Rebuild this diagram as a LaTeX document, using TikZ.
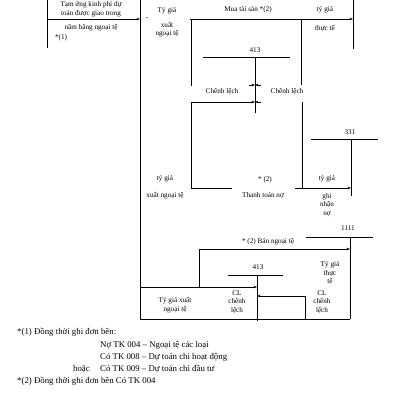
\documentclass[tikz,border=0pt]{standalone}
\usepackage{fontspec}
\setmainfont{Liberation Serif}
\usetikzlibrary{arrows.meta}

\begin{document}
\begin{tikzpicture}[x=1pt, y=-1pt,
  lbl/.style={font=\fontsize{7.2}{8.5}\selectfont, align=center, inner sep=0pt},
  note/.style={font=\fontsize{8.8}{10}\selectfont, anchor=west, inner sep=0pt},
  ln/.style={line width=0.7pt},
  arr/.style={ln, -{Stealth[length=3.5pt, width=2.6pt]}}]
  \useasboundingbox (0,0) rectangle (400,400);

  % account: tam ung kinh phi
  \coordinate (tuTop) at (47,0);
  \coordinate (tuBot) at (47,48);
  \coordinate (tuRow) at (47,19);
  \coordinate (mainTop) at (140,0);
  \coordinate (mainRow) at (140,19);
  \coordinate (mainMid) at (140,287);
  \coordinate (mainBot) at (140,319);
  \draw[ln] (tuTop) -- (tuBot);
  \draw[ln] (mainTop) -- (mainBot);
  \draw[arr] (tuRow) -- (mainRow);
  \node[lbl] (tamung) at (91,9.5) {Tạm ứng kinh phí dự\\toán được giao trong};
  \node[lbl] (nambang) at (91,28) {năm bằng ngoại tệ};
  \node[lbl] (note1) at (61,38) {*(1)};
  \node[lbl] (dash) at (147,18.5) {-};
  \node[lbl] (tygia1) at (167,11) {Tỷ giá};
  \node[lbl] (xuat1) at (167,29.5) {xuất\\ngoại tệ};

  % mua tai san
  \coordinate (muaL) at (190,19);
  \coordinate (muaR) at (353,19);
  \coordinate (tsTop) at (353,0);
  \coordinate (tsBot) at (353,49);
  \draw[arr] (muaL) -- (muaR);
  \draw[ln] (tsTop) -- (tsBot);
  \node[lbl] (mua) at (248,10) {Mua tài sản *(2)};
  \node[lbl] (tygia2) at (325,9.5) {tỷ giá};
  \node[lbl] (thucte1) at (325,28) {thực tế};
  \coordinate (upL1) at (191,19);
  \coordinate (upL2) at (191,86);
  \coordinate (upR1) at (301,19);
  \coordinate (upR2) at (301,85);
  \draw[ln] (upL1) -- (upL2);
  \draw[ln] (upR1) -- (upR2);

  % 413 (tren)
  \node[lbl] (tk413a) at (255,50) {413};
  \coordinate (a413L) at (203,57);
  \coordinate (a413R) at (290,57);
  \coordinate (a413T) at (255,57);
  \coordinate (a413B) at (255,113);
  \draw[ln] (a413L) -- (a413R);
  \draw[ln] (a413T) -- (a413B);
  \coordinate (c1) at (255,85);
  \coordinate (c2) at (255,102);
  \draw[arr] (249,85) -- (c1);
  \draw[arr] (261,85) -- (c1);
  \draw[arr] (261,102) -- (c2);
  \node[lbl] (cl1) at (222,92) {Chênh lệch};
  \node[lbl] (cl2) at (287,92) {Chênh lệch};

  % thanh toan no
  \coordinate (loL1) at (191,102);
  \coordinate (loL2) at (191,188);
  \coordinate (loR1) at (302,102);
  \coordinate (loR2) at (302,188);
  \draw[arr] (loL1) -- (c2);
  \draw[ln] (loL1) -- (loL2);
  \draw[ln] (loR1) -- (loR2);
  \coordinate (ttL) at (232,188);
  \coordinate (ttR1) at (295,188);
  \coordinate (ttR2) at (351,188);
  \draw[ln] (loL2) -- (ttL);
  \draw[arr] (ttR1) -- (ttR2);
  \node[lbl] (tygia3) at (165,179) {tỷ giá};
  \node[lbl] (xuat2) at (165,196) {xuất ngoại tệ};
  \node[lbl] (note2a) at (265,180) {* (2)};
  \node[lbl] (thanhtoan) at (263,196) {Thanh toán nợ};
  \node[lbl] (tygia4) at (327,179) {tỷ giá};
  \node[lbl] (ghinhan) at (327,205) {ghi\\nhận\\nợ};

  % 331
  \node[lbl] (tk331) at (350,132) {331};
  \coordinate (a331L) at (311,139);
  \coordinate (a331R) at (378,139);
  \coordinate (a331T) at (351,139);
  \coordinate (a331B) at (351,196);
  \draw[ln] (a331L) -- (a331R);
  \draw[ln] (a331T) -- (a331B);

  % 1111
  \node[lbl] (tk1111) at (348,228) {1111};
  \coordinate (a1111L) at (306,237);
  \coordinate (a1111R) at (373,237);
  \coordinate (a1111T) at (350,237);
  \coordinate (a1111B) at (350,319);
  \draw[ln] (a1111L) -- (a1111R);
  \draw[ln] (a1111T) -- (a1111B);

  % ban ngoai te
  \coordinate (banL) at (199,249);
  \coordinate (banR) at (350,249);
  \coordinate (banB) at (199,287);
  \draw[arr] (banL) -- (banR);
  \draw[ln] (banL) -- (banB);
  \node[lbl] (ban) at (268,242) {* (2) Bán ngoại tệ};

  % 413 (duoi)
  \node[lbl] (tk413b) at (258,267) {413};
  \coordinate (b413L) at (228,275);
  \coordinate (b413R) at (283,275);
  \coordinate (b413T) at (257,275);
  \coordinate (b413B) at (257,321);
  \coordinate (b413M) at (257,287);
  \coordinate (b413N) at (257,296);
  \draw[ln] (b413L) -- (b413R);
  \draw[ln] (b413T) -- (b413B);
  \draw[arr] (mainMid) -- (b413M);
  \coordinate (clT) at (305,296);
  \coordinate (clB) at (305,319);
  \draw[arr] (clT) -- (b413N);
  \draw[ln] (clT) -- (clB);
  \draw[ln] (mainBot) -- (a1111B);
  \node[lbl] (tygia5) at (175,305) {Tỷ giá xuất\\ngoại tệ};
  \node[lbl] (clch1) at (237,302) {CL\\chênh\\lệch};
  \node[lbl] (thucte2) at (330,273) {Tỷ giá\\thực\\tế};
  \node[lbl] (clch2) at (322,302) {CL\\chênh\\lệch};

  % ghi chu
  \node[note] (n1) at (17,332) {*(1) Đồng thời ghi đơn bên:};
  \node[note] (n2) at (100,345) {Nợ TK 004 – Ngoại tệ các loại};
  \node[note] (n3) at (100,357) {Có TK 008 – Dự toán chi hoạt động};
  \node[note] (n4a) at (73,369) {hoặc};
  \node[note] (n4) at (100,369) {Có TK 009 – Dự toán chi đầu tư};
  \node[note] (n5) at (17,381) {*(2) Đồng thời ghi đơn bên Có TK 004};
\end{tikzpicture}
\end{document}
